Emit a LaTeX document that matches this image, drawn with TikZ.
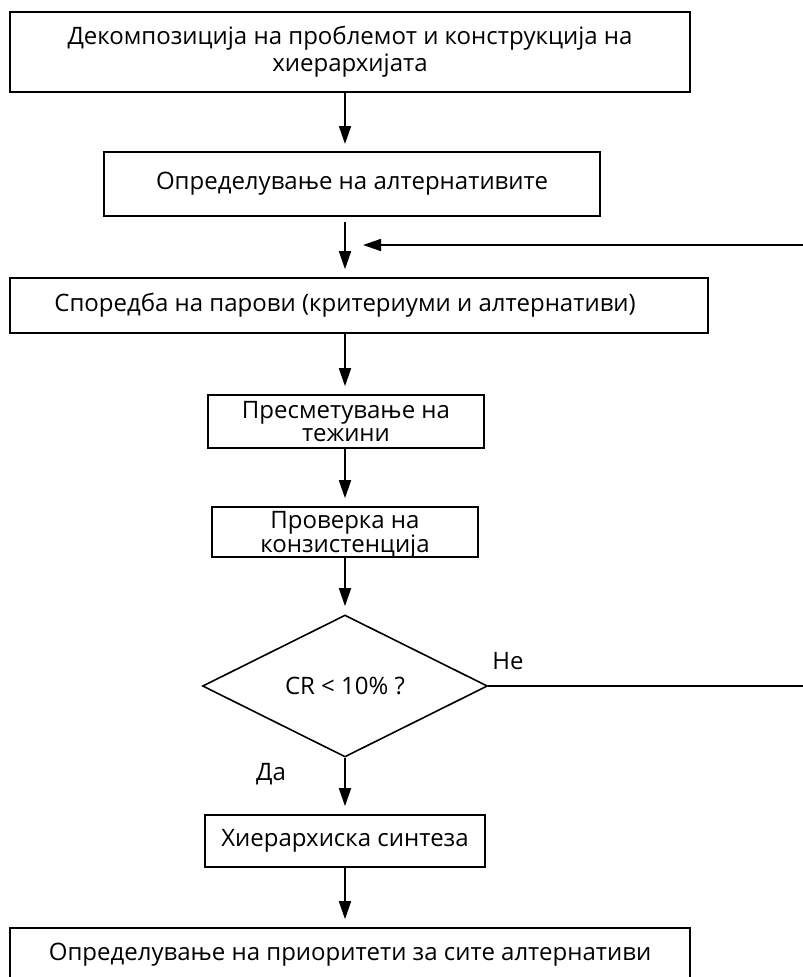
\documentclass[tikz,border=0pt]{standalone}
\usepackage{fontspec}
\setmainfont{Open Sans}
\usetikzlibrary{arrows.meta,shapes.geometric}
\begin{document}
\begin{tikzpicture}[x=1pt,y=-1pt,
  every node/.style={font=\fontsize{24}{22.5}\selectfont},
  stepbox/.style={draw, line width=1.6pt, inner sep=0pt, align=center, fill=white},
  flow/.style={line width=1.6pt, shorten >=8pt, -{Triangle[length=18pt,width=12pt]}},
  plain/.style={line width=1.6pt}]
\clip (0,0) rectangle (803,977);
\fill[white] (0,0) rectangle (803,977);

% process boxes, top to bottom
\node[stepbox, minimum width=680, minimum height=80, font=\fontsize{24}{27}\selectfont]
  (decomp) at (350,52)
  {Декомпозиција на проблемот и конструкција на\\хиерархијата};
\node[stepbox, minimum width=496, minimum height=64] (alt) at (352,184)
  {Определување на алтернативите};
\node[stepbox, minimum width=698, minimum height=55] (pairs) at (359,305.5)
  {Споредба на парови (критериуми и алтернативи)\kern28pt};
\node[stepbox, minimum width=276, minimum height=53] (weights) at (346,421.5)
  {Пресметување на\\тежини};
\node[stepbox, minimum width=266, minimum height=50,
  label={[align=center, yshift=-3pt]center:Проверка на\\конзистенција}] (check) at (345,532) {};
\node[draw, line width=1.6pt, shape=diamond, aspect=2, inner sep=0pt,
  minimum width=285, minimum height=142] (cr) at (345,686) {CR < 10\% ?};
\node[stepbox, minimum width=280, minimum height=52] (synth) at (345,841)
  {Хиерархиска синтеза};
\node[stepbox, minimum width=680, minimum height=54] (prior) at (350,955)
  {Определување на приоритети за сите алтернативи};

% branch labels
\node (no) at (508,661) {Не};
\node (yes) at (271,774) {Да};

% loop back from the decision to the pairwise comparison step
\coordinate (loopR) at (815,686);
\coordinate (loopIn) at (363,245);

\draw[flow] (345,92) -- (345,152);
\draw[flow, shorten <=5pt] (alt.south -| cr.north) -- (pairs.north -| cr.north);
\draw[flow] (pairs.south -| cr.north) -- (weights.north -| cr.north);
\draw[flow] (weights.south -| cr.north) -- (check.north -| cr.north);
\draw[flow] (check.south -| cr.north) -- (cr.north);
\draw[flow] (cr.south) -- (synth.north);
\draw[flow] (synth.south) -- (prior.north -| synth.south);
\draw[line width=1.6pt, -{Triangle[length=18pt,width=12pt]}] (cr.east) -- (loopR) |- (loopIn);
\end{tikzpicture}
\end{document}
